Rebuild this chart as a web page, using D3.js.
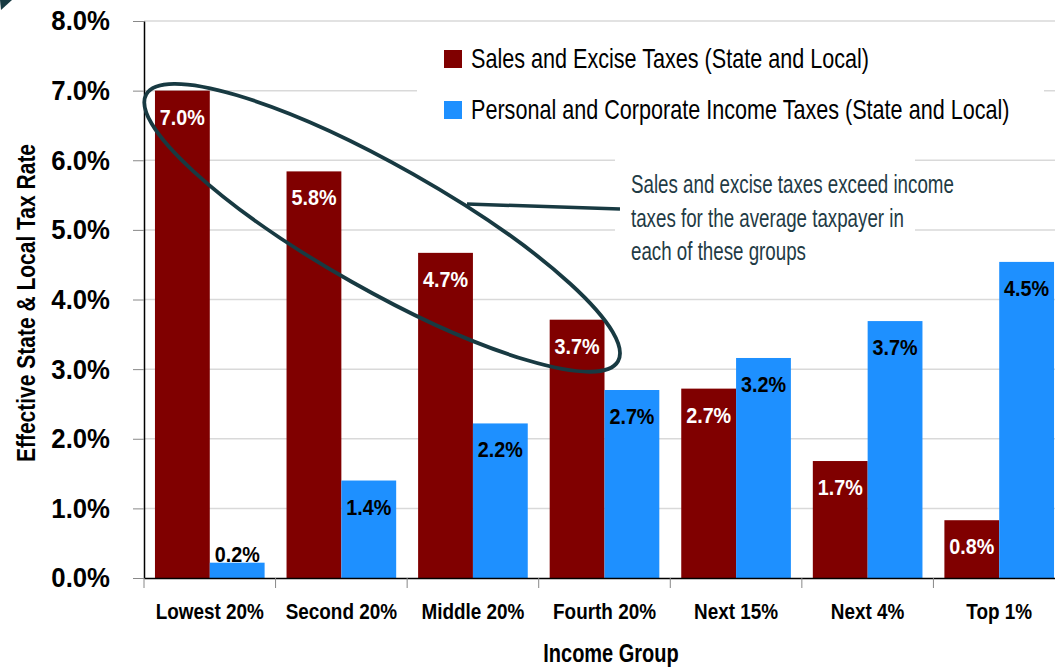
<!DOCTYPE html>
<html>
<head>
<meta charset="utf-8">
<script src="https://cdn.jsdelivr.net/npm/d3@7"></script>
<style>
  body { margin: 0; background: #fff; }
  svg { display: block; font-family: "Liberation Sans", Arial, sans-serif; }
</style>
</head>
<body>
<script>
const groups = ['Lowest 20%', 'Second 20%', 'Middle 20%', 'Fourth 20%', 'Next 15%', 'Next 4%', 'Top 1%'];
const seriesNames = ['Sales and Excise Taxes (State and Local)', 'Personal and Corporate Income Taxes (State and Local)'];
const salesExcise = [7.0, 5.84, 4.67, 3.71, 2.72, 1.68, 0.83];
const incomeTax = [0.22, 1.4, 2.22, 2.7, 3.16, 3.69, 4.54];
const yTicks = [0, 1, 2, 3, 4, 5, 6, 7, 8];
const note = ['Sales and excise taxes exceed income', 'taxes for the average taxpayer in', 'each of these groups'];

const w = 1055,
  h = 667;
const colors = ['#800000', '#1e90ff'];
const ink = '#183a42';

// no condensed font here, so squeeze the glyphs horizontally for the narrow look
function squeeze(sel, k) {
  sel.each(function() {
    const t = d3.select(this);
    const tx = +t.attr('x') || 0,
      ty = +t.attr('y') || 0;
    const prev = t.attr('transform') || '';
    t.attr('x', 0)
      .attr('y', 0)
      .attr('transform', `${prev} translate(${tx},${ty}) scale(${k},1)`);
  });
}

const svg = d3.select('body').append('svg').attr('width', w).attr('height', h);

const x0 = d3.scaleBand().domain(groups).range([144, 1065]).padding(0);
const x1 = d3.scaleBand().domain([0, 1]).range([0, x0.bandwidth()]).paddingOuter(0.2);
const y = d3.scaleLinear().domain([0, 8]).range([578, 21]);

// gridlines
svg
  .append('g')
  .selectAll('line')
  .data(yTicks.filter(d => d > 0))
  .enter()
  .append('line')
  .attr('x1', 144)
  .attr('x2', w)
  .attr('y1', d => y(d))
  .attr('y2', d => y(d))
  .attr('stroke', '#d9d9d9')
  .attr('stroke-width', 1.5);

// white boxes behind legend and note (they hide the gridlines)
svg.append('rect').attr('x', 417).attr('y', 27).attr('width', 627).attr('height', 110).attr('fill', '#fff');
svg.append('rect').attr('x', 615).attr('y', 156).attr('width', 300).attr('height', 112).attr('fill', '#fff');

// top-left corner mark
svg.append('path').attr('d', 'M0,0L12,0L1,10Z').attr('fill', ink);

const rows = groups.map((g, i) => ({ group: g, vals: [salesExcise[i], incomeTax[i]] }));

const grp = svg
  .selectAll('g.group')
  .data(rows)
  .enter()
  .append('g')
  .attr('class', 'group')
  .attr('transform', d => `translate(${x0(d.group)},0)`);

grp
  .selectAll('rect')
  .data(d => d.vals.map((v, s) => ({ v, s })))
  .enter()
  .append('rect')
  .attr('x', d => x1(d.s))
  .attr('y', d => y(d.v))
  .attr('width', x1.bandwidth())
  .attr('height', d => y(0) - y(d.v))
  .attr('fill', d => colors[d.s]);

grp
  .selectAll('text')
  .data(d => d.vals.map((v, s) => ({ v, s })))
  .enter()
  .append('text')
  .attr('x', d => x1(d.s) + x1.bandwidth() / 2)
  .attr('y', d => (y(0) - y(d.v) < 40 ? y(d.v) - 1 : y(d.v) + 34))
  .attr('text-anchor', 'middle')
  .attr('font-size', 21.5)
  .attr('font-weight', 'bold')
  .attr('fill', d => (d.s === 0 ? '#fff' : '#000'))
  .text(d => d.v.toFixed(1) + '%')
  .call(squeeze, 0.92);

// y axis
const yAxis = d3
  .axisLeft(y)
  .tickValues(yTicks)
  .tickSize(11)
  .tickSizeOuter(0)
  .tickPadding(23)
  .tickFormat(d => d.toFixed(1) + '%');
const ya = svg.append('g').attr('transform', 'translate(144,0)').call(yAxis);
ya.select('.domain').attr('stroke', '#000').attr('stroke-width', 1.5);
ya.selectAll('.tick line').attr('stroke', '#888');
ya.selectAll('text')
  .attr('font-size', 28)
  .attr('font-weight', 'bold')
  .attr('font-family', null)
  .attr('fill', '#000')
  .call(squeeze, 0.92);

// x axis
const xAxis = d3.axisBottom(x0).tickSize(0).tickSizeOuter(0);
const xa = svg.append('g').attr('transform', 'translate(0,578)').call(xAxis);
xa.select('.domain').attr('stroke', '#000').attr('stroke-width', 1.5);
xa.selectAll('text')
  .attr('y', 41)
  .attr('dy', 0)
  .attr('font-size', 22)
  .attr('font-weight', 'bold')
  .attr('font-family', null)
  .attr('fill', '#000')
  .call(squeeze, 0.86);
xa.selectAll('line.sep')
  .data(groups)
  .enter()
  .append('line')
  .attr('class', 'sep')
  .attr('x1', d => x0(d))
  .attr('x2', d => x0(d))
  .attr('y1', 0)
  .attr('y2', 10)
  .attr('stroke', '#888');

// axis titles
svg
  .append('text')
  .attr('transform', 'translate(35,303) rotate(-90)')
  .attr('text-anchor', 'middle')
  .attr('font-size', 25)
  .attr('font-weight', 'bold')
  .text('Effective State & Local Tax Rate')
  .call(squeeze, 0.84);

svg
  .append('text')
  .attr('x', 611)
  .attr('y', 662)
  .attr('text-anchor', 'middle')
  .attr('font-size', 25)
  .attr('font-weight', 'bold')
  .text('Income Group')
  .call(squeeze, 0.8);

// legend
const leg = svg
  .selectAll('g.leg')
  .data(seriesNames)
  .enter()
  .append('g')
  .attr('class', 'leg')
  .attr('transform', (d, i) => `translate(444,${50 + i * 51})`);
leg.append('rect').attr('width', 18).attr('height', 18).attr('fill', (d, i) => colors[i]);
leg
  .append('text')
  .attr('x', 27)
  .attr('y', 18)
  .attr('font-size', 27)
  .attr('fill', '#000')
  .text(d => d)
  .call(squeeze, 0.8);

// ellipse round the groups where sales taxes exceed income taxes
const cx = x0('Second 20%') + x0.bandwidth() * 0.81,
  cy = y(5.03);
svg
  .append('ellipse')
  .attr('cx', cx)
  .attr('cy', cy)
  .attr('rx', 271)
  .attr('ry', 62)
  .attr('transform', `rotate(29.5,${cx},${cy})`)
  .attr('fill', 'none')
  .attr('stroke', ink)
  .attr('stroke-width', 3.8);

svg
  .append('line')
  .attr('x1', 467)
  .attr('y1', 204)
  .attr('x2', 620)
  .attr('y2', 209)
  .attr('stroke', ink)
  .attr('stroke-width', 3.5);

svg
  .selectAll('text.note')
  .data(note)
  .enter()
  .append('text')
  .attr('class', 'note')
  .attr('x', 631)
  .attr('y', (d, i) => 193 + i * 33.7)
  .attr('font-size', 25)
  .attr('fill', '#1f3b45')
  .text(d => d)
  .call(squeeze, 0.75);
</script>
</body>
</html>
